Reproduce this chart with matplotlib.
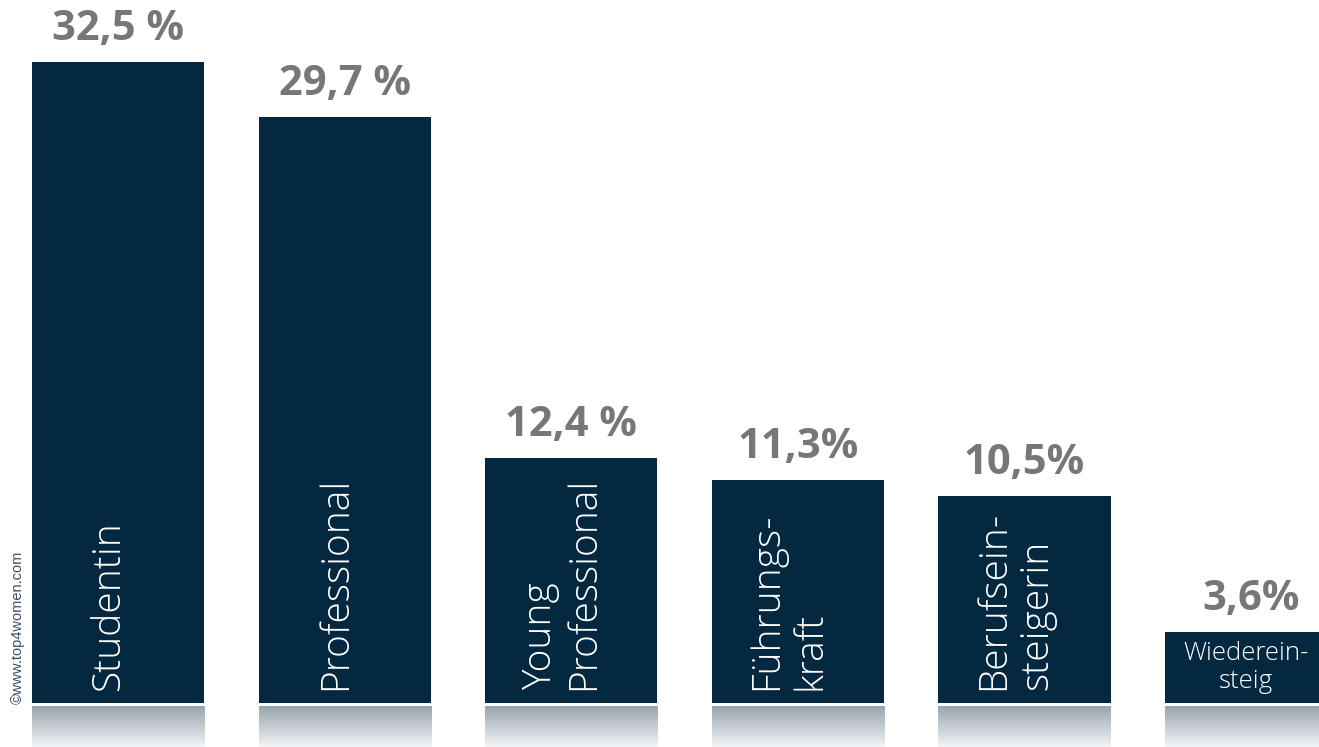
import numpy as np
import matplotlib
matplotlib.use("Agg")
import matplotlib.pyplot as plt
from matplotlib.colors import LinearSegmentedColormap

categories = ["Studentin", "Professional", "Young\nProfessional", "Führungs-\nkraft",
              "Berufsein-\nsteigerin", "Wiederein-\nsteig"]
values = [32.5, 29.7, 12.4, 11.3, 10.5, 3.6]
value_labels = ["32,5 %", "29,7 %", "12,4 %", "11,3%", "10,5%", "3,6%"]

plt.rcParams['font.family'] = ['Open Sans', 'DejaVu Sans']

bar_color = '#03283f'
fig = plt.figure(figsize=(13.19, 7.47), dpi=100)
ax = fig.add_axes([0, 0, 1, 1])

x = np.arange(len(values))
width = 0.76
ax.bar(x, values, width=width, color=bar_color, zorder=2)

# fading mirror strip under each bar
fade = LinearSegmentedColormap.from_list('fade', ['#97a5ae', '#f3f5f6'])
grad = np.linspace(0, 1, 100).reshape(-1, 1)
for xi in x:
    ax.imshow(grad, cmap=fade, aspect='auto', origin='upper',
              extent=[xi - width / 2, xi + width / 2, -2.23, -0.2], zorder=1)

for xi, v, lab in zip(x, values, value_labels):
    ax.annotate(lab, (xi, v), xytext=(0, 16), textcoords='offset points',
                ha='center', va='baseline', fontsize=30, fontweight='bold',
                color='#777777')

for xi, cat in zip(x[:-1], categories[:-1]):
    ax.text(xi - 0.04, 0.66, cat, rotation=90, ha='center', va='bottom',
            multialignment='left', fontsize=28, fontweight='light',
            color='white', linespacing=1.15)

# the short bar gets a horizontal label
ax.text(x[-1] - 0.02, values[-1] / 2, categories[-1], ha='center', va='center',
        multialignment='center', fontsize=18.5, fontweight='light',
        color='white', linespacing=1.2)

fig.text(0.0135, 0.058, "©www.top4women.com", rotation=90, ha='center', va='bottom',
         fontsize=10.5, color='#3b4f66', family=['Liberation Sans', 'DejaVu Sans'])

ax.set_xlim(-0.521, 5.30)
ax.set_ylim(-2.23, 35.65)
ax.axis('off')

fig.savefig('out.png', dpi=100)
